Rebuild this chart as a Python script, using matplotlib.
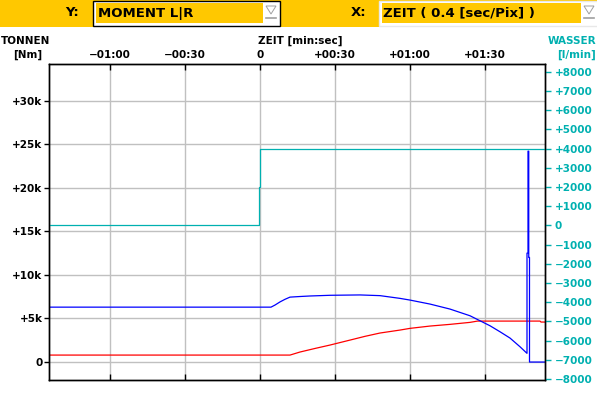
import matplotlib
matplotlib.use("Agg")
import matplotlib.pyplot as plt
from matplotlib.patches import Rectangle, Polygon

# time axis in seconds (0.4 sec per pixel)
x_ticks = [-60, -30, 0, 30, 60, 90]
x_ticklabels = ["\u221201:00", "\u221200:30", "0", "+00:30", "+01:00", "+01:30"]

left_ticks = [0, 5000, 10000, 15000, 20000, 25000, 30000]
left_ticklabels = ["0", "+5k", "+10k", "+15k", "+20k", "+25k", "+30k"]

right_ticks = list(range(-8000, 8001, 1000))
right_ticklabels = [("+%d" % v if v > 0 else ("\u2212%d" % -v if v < 0 else "0")) for v in right_ticks]

# blue moment curve (Nm)
blue_t = [-85, 4.4, 6, 8, 10, 12, 16, 20, 28, 40, 48, 56, 60, 68, 76, 84, 88, 92, 96, 100, 104, 106.8,
          106.8, 107.2, 107.2, 107.5, 107.5, 107.8, 107.8, 115]
blue_v = [6300, 6300, 6540, 6900, 7200, 7450, 7520, 7580, 7660, 7700, 7620, 7306, 7111, 6653, 6079, 5311,
          4737, 4164, 3475, 2753, 1755, 998,
          12500, 12500, 24200, 24200, 12000, 12000, 0, 0]

# red moment curve (Nm)
red_t = [-85, 12, 16, 22, 28, 36, 42, 48, 56, 60, 68, 76, 84, 87, 112, 112.4, 115]
red_v = [800, 800, 1150, 1560, 1950, 2520, 2950, 3330, 3670, 3865, 4130, 4324, 4553, 4700, 4700, 4590, 4590]

# water flow (l/min)
water_t = [-85, -0.4, -0.4, 0, 0, 115]
water_v = [0, 0, 2000, 2000, 4000, 4000]

TEAL = "#00B0B0"
ORANGE = "#FFC800"
GRID = "#C0C0C0"
FONT = "DejaVu Sans"

fig = plt.figure(figsize=(5.97, 3.95), dpi=100)
fig.patch.set_facecolor("white")

# header / label layer in pixel coordinates
hdr = fig.add_axes([0, 0, 1, 1], zorder=-1)
hdr.set_xlim(0, 597)
hdr.set_ylim(395, 0)
hdr.axis("off")

hdr.add_patch(Rectangle((0, 0), 597, 27, facecolor=ORANGE, edgecolor="none"))
# Y selector box
hdr.add_patch(Rectangle((93, 0.5), 187, 25.5, facecolor="white", edgecolor="black", lw=1))
hdr.add_patch(Rectangle((96, 3), 167, 20, facecolor=ORANGE, edgecolor="none"))
# X selector box
hdr.add_patch(Rectangle((379, 0.5), 220, 25.5, facecolor="white", edgecolor="#E8E8E8", lw=1))
hdr.add_patch(Rectangle((382, 3), 199, 20, facecolor=ORANGE, edgecolor="none"))
for x0 in (266, 584):
    hdr.add_patch(Polygon([[x0, 6], [x0 + 10, 6], [x0 + 5, 14]], closed=True,
                          facecolor="white", edgecolor="#A0A0A0", lw=0.7))
    hdr.plot([x0, x0 + 10], [18, 18], color="#A0A0A0", lw=1.2)

hdr.text(65, 13, "Y:", fontsize=9.5, fontweight="bold", family=FONT, va="center", ha="left")
hdr.text(98, 13, "MOMENT L|R", fontsize=9.5, fontweight="bold", family=FONT, va="center", ha="left")
hdr.text(351, 13, "X:", fontsize=9.5, fontweight="bold", family=FONT, va="center", ha="left")
hdr.text(383, 13, "ZEIT ( 0.4 [sec/Pix] )", fontsize=9.5, fontweight="bold", family=FONT, va="center", ha="left")

hdr.text(1, 41, "TONNEN", fontsize=7.5, fontweight="bold", family=FONT, va="center", ha="left")
hdr.text(42, 55, "[Nm]", fontsize=7.5, fontweight="bold", family=FONT, va="center", ha="right")
hdr.text(258, 41, "ZEIT [min:sec]", fontsize=7.5, fontweight="bold", family=FONT, va="center", ha="left")
hdr.text(596, 41, "WASSER", fontsize=7.5, fontweight="bold", family=FONT, color=TEAL, va="center", ha="right")
hdr.text(596, 55, "[l/min]", fontsize=7.5, fontweight="bold", family=FONT, color=TEAL, va="center", ha="right")

# main plot
ax = fig.add_axes([49 / 597, 15 / 395, 496 / 597, 316 / 395])
ax.set_xlim(-84.4, 114)
ax.set_ylim(-2060, 34200)

ax.set_xticks(x_ticks)
ax.set_xticklabels(x_ticklabels, fontsize=7.5, fontweight="bold", family=FONT)
ax.set_yticks(left_ticks)
ax.set_yticklabels(left_ticklabels, fontsize=7.5, fontweight="bold", family=FONT)
ax.tick_params(axis="x", direction="in", top=True, bottom=True, labeltop=True, labelbottom=False,
               length=4.5, width=1, pad=3)
ax.tick_params(axis="y", direction="out", length=3.8, width=1, pad=0.8)
ax.grid(True, color=GRID, lw=1)
ax.set_axisbelow(True)
for s in ax.spines.values():
    s.set_linewidth(1)

ax.plot(red_t, red_v, color="#FF0000", lw=0.9)
ax.plot(blue_t, blue_v, color="#0000FF", lw=0.9)

ax2 = ax.twinx()
ax2.set_ylim(-8050, 8410)
ax2.set_yticks(right_ticks)
ax2.set_yticklabels(right_ticklabels, fontsize=7.5, fontweight="bold", family=FONT, color=TEAL)
ax2.tick_params(axis="y", direction="out", length=4.5, width=1, pad=2.5, color=TEAL)
ax2.plot(water_t, water_v, color=TEAL, lw=0.9)
for s in ax2.spines.values():
    s.set_linewidth(1)

fig.savefig("out.png", dpi=100)
